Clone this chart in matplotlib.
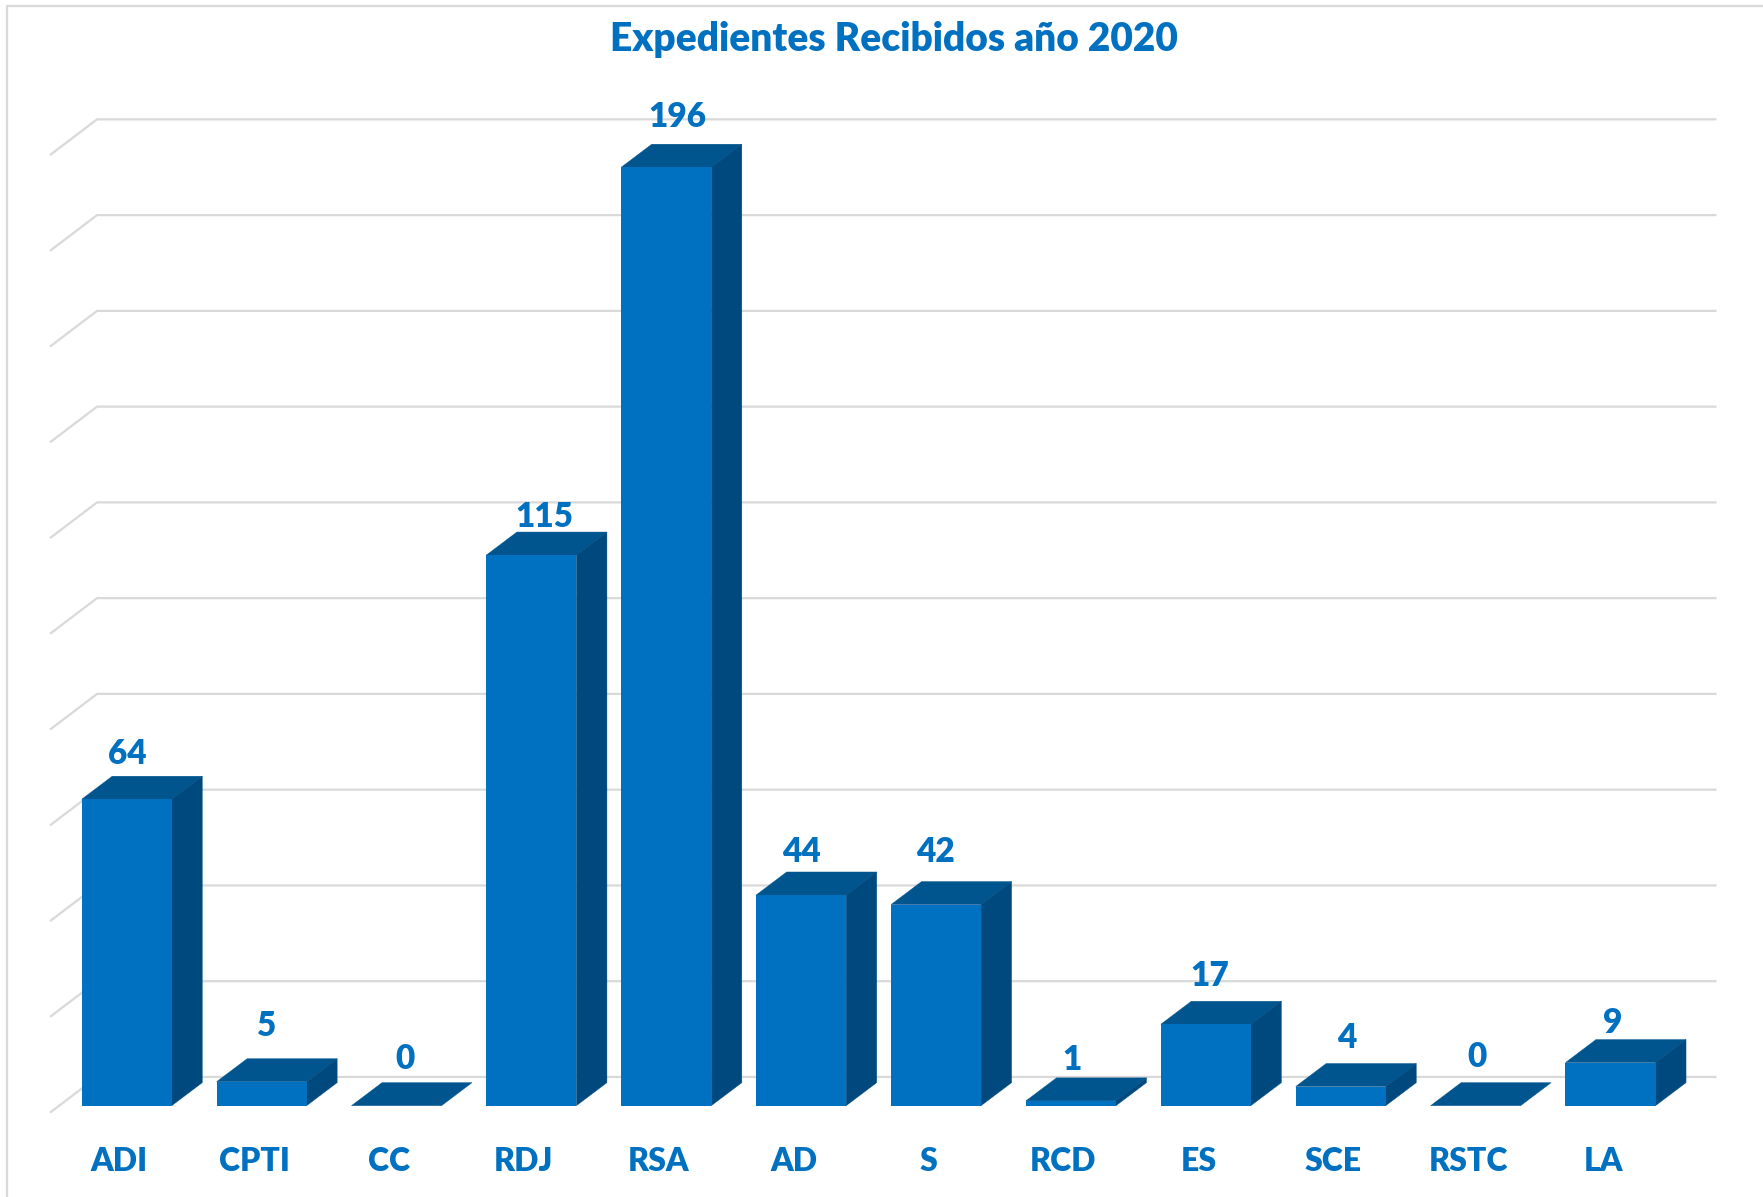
import matplotlib
matplotlib.use('Agg')
import matplotlib.pyplot as plt
import numpy as np

categories = ['ADI', 'CPTI', 'CC', 'RDJ', 'RSA', 'AD', 'S', 'RCD', 'ES', 'SCE', 'RSTC', 'LA']
values = [64, 5, 0, 115, 196, 44, 42, 1, 17, 4, 0, 9]
grid_values = [0, 20, 40, 60, 80, 100, 120, 140, 160, 180, 200]

# the value labels were moved by hand in the original, offsets in pixels from the bar front
label_dx = [1, 5, 8, 13, 11, 0, -1, 1, 4, 6, 1, 2]
label_dy = [46, 56, 47, 39, 51, 43, 53, 41, 49, 49, 49, 40]

W, H = 1763, 1197
BLUE = '#0070C0'
TOP = '#00558F'
SIDE = '#00497E'
GRID = '#D9D9D9'

plt.rcParams['font.family'] = ['Lato', 'DejaVu Sans']

fig = plt.figure(figsize=((W + 0.5) / 100, (H + 0.5) / 100), dpi=100)
left, right, base, top = 50, 1716, 1105.7, 148.5
ax = fig.add_axes([left / W, 1 - base / H, (right - left) / W, (base - top) / H])
pitch = 134.85
ax.set_xlim((left - 126.7) / pitch, (right - 126.7) / pitch)
ax.set_ylim(0, 200)

px_y = (base - top) / 200
half = 45 / pitch
depth_x = 30.5 / pitch
depth_y = 23 / px_y

# floor/wall gridlines with the little slanted bit on the left
back_x = (97 - 126.7) / pitch
for g in grid_values:
    ax.plot([ax.get_xlim()[0], back_x, ax.get_xlim()[1]],
            [g - 7 / px_y, g + 28.7 / px_y, g + 28.7 / px_y],
            color=GRID, lw=1.6, clip_on=False, zorder=1, solid_capstyle='butt')

for i, v in enumerate(values):
    x0 = i - half
    x1 = i + half
    ax.fill([x0, x1, x1 + depth_x, x0 + depth_x], [v, v, v + depth_y, v + depth_y],
            color=TOP, lw=0.3, clip_on=False, zorder=2)
    if v > 0:
        ax.fill([x1, x1 + depth_x, x1 + depth_x, x1], [0, depth_y, v + depth_y, v],
                color=SIDE, lw=0.3, clip_on=False, zorder=2)
        ax.fill([x0, x1, x1, x0], [0, 0, v, v], color=BLUE, lw=0, clip_on=False, zorder=3)
    ax.annotate(str(v), xy=(i, v), xytext=(label_dx[i] * 0.72, label_dy[i] * 0.72),
                textcoords='offset points', ha='center', va='center',
                color=BLUE, fontsize=24, fontweight='heavy', zorder=4)

ax.set_xticks(np.arange(len(categories)) - 7.5 / pitch)
ax.set_xticklabels(categories, color=BLUE, fontsize=23, fontweight='heavy')
ax.tick_params(axis='x', length=0, pad=29.5)
ax.set_yticks([])
for s in ax.spines.values():
    s.set_visible(False)
ax.patch.set_alpha(0)

fig.text(894 / W, 1 - 39.5 / H, 'Expedientes Recibidos año 2020', color=BLUE,
         fontsize=28, fontweight='heavy', ha='center', va='center')

# chart frame, only left and top reach into the picture
fig.add_artist(plt.Line2D([7 / W, 7 / W, 1763 / W], [0, 1 - 6 / H, 1 - 6 / H], color=GRID, lw=1.6))

fig.savefig('out.png', dpi=100)
